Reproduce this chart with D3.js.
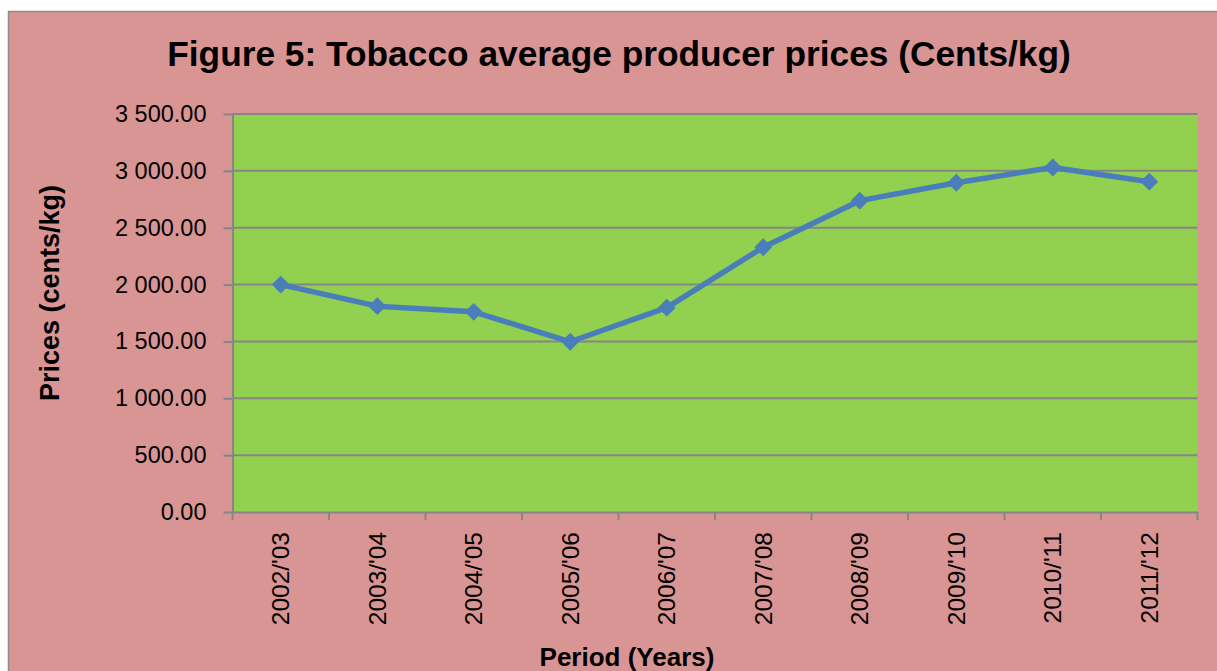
<!DOCTYPE html>
<html>
<head>
<meta charset="utf-8">
<script src="https://cdn.jsdelivr.net/npm/d3@7"></script>
<style>
    html, body { margin: 0; padding: 0; background: #ffffff; }
    svg { display: block; font-family: "Liberation Sans", Arial, sans-serif; }
    .axis path, .axis line { stroke: #868686; stroke-width: 2; }
    .axis text { fill: #000000; font-size: 23.5px; }
    .x.axis text { font-size: 24.5px; }
    .grid line { stroke: #868686; stroke-width: 2; }
</style>
</head>
<body>
<div id="chart"></div>
<script>
// values
const periods = ["2002/'03", "2003/'04", "2004/'05", "2005/'06", "2006/'07",
                 "2007/'08", "2008/'09", "2009/'10", "2010/'11", "2011/'12"];
const prices = [2000, 1810, 1760, 1497, 1797, 2328, 2738, 2895, 3030, 2905];
const yTicks = [0, 500, 1000, 1500, 2000, 2500, 3000, 3500];

const width = 1217, height = 671;
const plot = { left: 232.5, right: 1197.5, top: 114, bottom: 512 };

const svg = d3.select("#chart").append("svg")
    .attr("width", width)
    .attr("height", height);

// chart area (border runs off the right and bottom of the picture)
svg.append("rect")
    .attr("x", 8.5).attr("y", 11.5)
    .attr("width", width + 20).attr("height", height + 20)
    .attr("fill", "#d99594")
    .attr("stroke", "#8c8c8c")
    .attr("stroke-width", 1.5);

svg.append("rect")
    .attr("x", plot.left).attr("y", plot.top)
    .attr("width", plot.right - plot.left)
    .attr("height", plot.bottom - plot.top)
    .attr("fill", "#92d050");

const x = d3.scaleBand()
    .domain(periods)
    .range([plot.left, plot.right]);

const y = d3.scaleLinear()
    .domain([0, 3500])
    .range([plot.bottom, plot.top]);

const locale = d3.formatLocale({ decimal: ".", thousands: " ", grouping: [3], currency: ["", ""] });
const fmt = locale.format(",.2f");

// gridlines
svg.append("g")
    .attr("class", "grid")
    .selectAll("line")
    .data(yTicks.slice(1))
    .enter().append("line")
    .attr("x1", plot.left).attr("x2", plot.right)
    .attr("y1", d => y(d)).attr("y2", d => y(d));

// y axis
svg.append("g")
    .attr("class", "y axis")
    .attr("transform", "translate(" + plot.left + ",0)")
    .call(d3.axisLeft(y).tickValues(yTicks).tickFormat(fmt).tickSize(9).tickSizeOuter(0).tickPadding(17));

// x axis: labels at band centres, tick marks on band edges
const xAxis = svg.append("g")
    .attr("class", "x axis")
    .attr("transform", "translate(0," + plot.bottom + ")")
    .call(d3.axisBottom(x).tickSize(0).tickSizeOuter(0));

xAxis.selectAll(".tick text")
    .attr("transform", "rotate(-90)")
    .attr("x", -20)
    .attr("y", 0)
    .attr("dy", "0.35em")
    .style("text-anchor", "end");

xAxis.selectAll(".edge")
    .data(periods.map(p => x(p)).concat([plot.right]))
    .enter().append("line")
    .attr("class", "edge")
    .attr("x1", d => d).attr("x2", d => d)
    .attr("y1", 0).attr("y2", 8);

// series
const line = d3.line()
    .x((d, i) => x(periods[i]) + x.bandwidth() / 2)
    .y(d => y(d));

svg.append("path")
    .attr("d", line(prices))
    .attr("fill", "none")
    .attr("stroke", "#4a7ebb")
    .attr("stroke-width", 5.5)
    .attr("stroke-linejoin", "round");

svg.selectAll(".point")
    .data(prices)
    .enter().append("path")
    .attr("class", "point")
    .attr("d", d3.symbol(d3.symbolSquare, 160))
    .attr("transform", (d, i) => "translate(" + (x(periods[i]) + x.bandwidth() / 2) + "," + y(d) + ") rotate(45)")
    .attr("fill", "#4a7ebb");

// titles
svg.append("text")
    .attr("x", 619).attr("y", 66)
    .attr("text-anchor", "middle")
    .style("font-size", "35.3px")
    .style("font-weight", "bold")
    .text("Figure 5: Tobacco average producer prices (Cents/kg)");

svg.append("text")
    .attr("transform", "translate(59,293) rotate(-90)")
    .attr("text-anchor", "middle")
    .style("font-size", "27px")
    .style("font-weight", "bold")
    .text("Prices (cents/kg)");

svg.append("text")
    .attr("x", 627).attr("y", 666)
    .attr("text-anchor", "middle")
    .style("font-size", "26px")
    .style("font-weight", "bold")
    .text("Period (Years)");
</script>
</body>
</html>
